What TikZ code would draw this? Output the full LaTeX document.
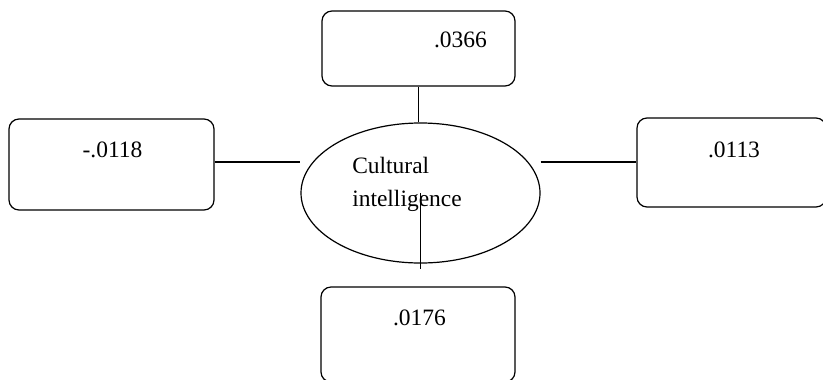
\documentclass[tikz,border=0pt]{standalone}
\usepackage{fontspec}
\setmainfont{Liberation Serif}
\usepackage{tikz}
\usetikzlibrary{shapes,calc,positioning}

\begin{document}
\begin{tikzpicture}[x=0.75pt,y=-0.75pt,
	valbox/.style={draw,rounded corners=7.5pt,line width=0.9pt,inner sep=0pt},
	val/.style={inner sep=0pt,font=\fontsize{17.6}{24.75}\selectfont},
	link/.style={line width=0.9pt}]
	\useasboundingbox (0,0) rectangle (823,379);
	\clip (0,0) rectangle (823,379);
	% boxes
	\node[valbox,minimum width=144.75pt,minimum height=56.25pt] (top) at (418.5,48.5) {};
	\node[valbox,minimum width=153.75pt,minimum height=68.25pt] (left) at (111.5,164.5) {};
	\node[valbox,minimum width=141.75pt,minimum height=66.75pt] (right) at (731.5,162.5) {};
	\node[valbox,minimum width=145.5pt,minimum height=71.25pt] (bottom) at (418,334.5) {};
	\node[draw,ellipse,line width=0.9pt,inner sep=0pt,minimum width=179.25pt,minimum height=105pt] (ci) at (420.5,193) {};
	
	% values
	\node[val] (topval) at (460.5,39.5) {.0366};
	\node[val] (leftval) at (112.5,149.5) {-.0118};
	\node[val] (rightval) at (734,149.5) {.0113};
	\node[val] (bottomval) at (419.5,317.5) {.0176};
	\node[val,align=left,anchor=west] (cilabel) at (352,184) {Cultural\\intelligence};
	
	\coordinate (cibelow) at ($(ci.south)+(0,5)$);
	
	\draw[link] (top.south) -- (top.south |- ci.north);
	\draw[link] (left.east |- 0,162) -- (ci.west |- 0,162);
	\draw[link] (ci.east |- 0,162) -- (right.west |- 0,162);
	\draw[link] (ci.center) -- (cibelow);
\end{tikzpicture}
\end{document}
